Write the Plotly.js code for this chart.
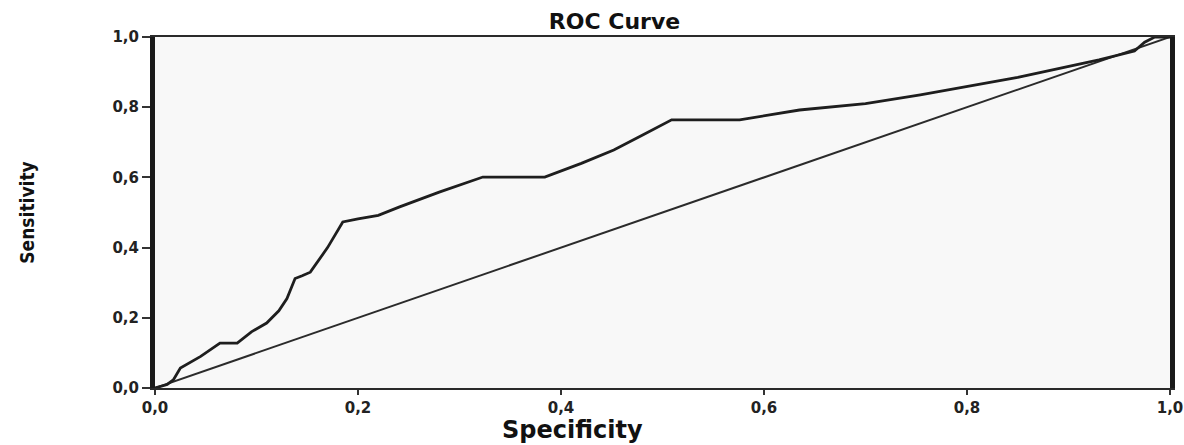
<!DOCTYPE html>
<html>
<head>
<meta charset="utf-8">
<script src="https://cdn.plot.ly/plotly-3.0.1.min.js"></script>
<style>
  html, body { margin: 0; padding: 0; background: #ffffff; }
  #chart { width: 1184px; height: 445px; }
</style>
</head>
<body>
<div id="chart"></div>
<script>
// ROC curve points
var rocX = [0, 0.012, 0.018, 0.025, 0.045, 0.064, 0.081, 0.095, 0.110, 0.122, 0.130, 0.138, 0.145, 0.153, 0.170, 0.185, 0.200, 0.220, 0.241, 0.280, 0.323, 0.384, 0.420, 0.452, 0.480, 0.509, 0.576, 0.635, 0.700, 0.754, 0.850, 0.930, 0.965, 0.975, 0.985, 1.0];
var rocY = [0, 0.010, 0.023, 0.057, 0.090, 0.128, 0.128, 0.160, 0.185, 0.220, 0.255, 0.312, 0.320, 0.330, 0.400, 0.473, 0.482, 0.492, 0.516, 0.558, 0.601, 0.601, 0.640, 0.678, 0.720, 0.764, 0.764, 0.792, 0.810, 0.835, 0.885, 0.935, 0.960, 0.985, 1.0, 1.0];
// reference (chance) line
var refX = [0, 1];
var refY = [0, 1];
// tick labels
var tickVals = [0, 0.2, 0.4, 0.6, 0.8, 1.0];
var tickText = ["<b>0,0</b>", "<b>0,2</b>", "<b>0,4</b>", "<b>0,6</b>", "<b>0,8</b>", "<b>1,0</b>"];

var traces = [
  {x: refX, y: refY, type: 'scatter', mode: 'lines',
   line: {color: '#2b2b2b', width: 2}, hoverinfo: 'skip', showlegend: false},
  {x: rocX, y: rocY, type: 'scatter', mode: 'lines',
   line: {color: '#1e1e1e', width: 2.8}, showlegend: false}
];

var tickFont = {family: 'DejaVu Sans, sans-serif', size: 15, color: '#222'};

var layout = {
  width: 1184, height: 445,
  margin: {l: 155, r: 14, t: 37, b: 57},
  paper_bgcolor: '#ffffff',
  plot_bgcolor: '#f8f8f8',
  title: {text: '<b>ROC Curve</b>', x: 0.519, xanchor: 'center', y: 0.952, yanchor: 'middle',
          font: {family: 'DejaVu Sans, sans-serif', size: 22, color: '#111'}},
  xaxis: {range: [0, 1], tickvals: tickVals, ticktext: tickText, tickfont: tickFont,
          showgrid: false, zeroline: false, showline: true, mirror: true,
          linecolor: '#2a2a2a', linewidth: 2, ticks: 'outside', ticklen: 5, tickwidth: 2,
          tickcolor: '#333', fixedrange: true},
  yaxis: {range: [0, 1], tickvals: tickVals, ticktext: tickText, tickfont: tickFont,
          showgrid: false, zeroline: false, showline: true, mirror: true,
          linecolor: '#1a1a1a', linewidth: 5, ticks: 'outside', ticklen: 8, tickwidth: 2,
          tickcolor: '#333', fixedrange: true,
          title: {text: '<b>Sensitivity</b>', standoff: 74,
                  font: {family: 'DejaVu Sans Condensed, Liberation Sans Narrow, sans-serif', size: 19, color: '#111'}}},
  annotations: [
    {text: '<b>Specificity</b>', xref: 'paper', yref: 'paper', x: (572 - 155) / 1015, y: -0.12,
     xanchor: 'center', yanchor: 'middle', showarrow: false,
     font: {family: 'DejaVu Sans, sans-serif', size: 24, color: '#111'}}
  ]
};

Plotly.newPlot('chart', traces, layout, {displayModeBar: false, staticPlot: true});
</script>
</body>
</html>
